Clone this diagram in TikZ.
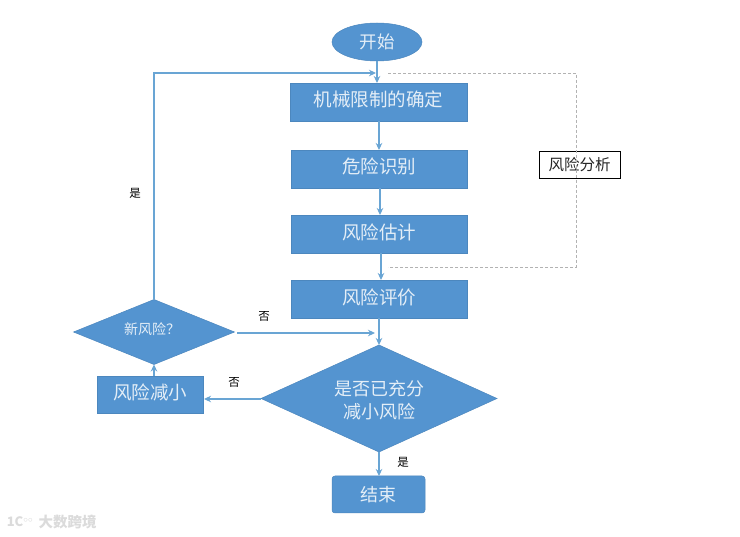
\documentclass[tikz,border=0pt]{standalone}
\usepackage{fontspec}
\usetikzlibrary{shapes.geometric,arrows.meta}
\setmainfont{Noto Sans CJK SC}
\definecolor{fillb}{RGB}{84,148,208}
\definecolor{edgeb}{RGB}{76,135,190}
\definecolor{lineb}{RGB}{105,165,212}
\definecolor{textw}{RGB}{228,238,247}
\newcommand{\upby}[2]{\raisebox{#1}{#2}}
\tikzset{
  x=1pt,y=-1pt,
  base/.style={fill=fillb,draw=edgeb,line width=0.5pt,text=textw,inner sep=0,outer sep=0},
  boxn/.style={base,rectangle,minimum width=176pt,minimum height=38pt,font=\fontsize{18.5}{20}\selectfont},
  conn/.style={draw=lineb,line width=1.2pt,-{Stealth[length=7pt,width=6.5pt]}},
  dashl/.style={draw=gray!60,line width=0.8pt,dash pattern=on 3pt off 2pt},
  lab/.style={font=\fontsize{11.5}{13}\selectfont,text=black,inner sep=0},
}
\begin{document}
\begin{tikzpicture}
\useasboundingbox (0,0) rectangle (740,537);
\fill[white] (0,0) rectangle (740,537);
\node[base,ellipse,minimum width=90pt,minimum height=38pt,font=\fontsize{17.5}{19}\selectfont] (start) at (377,42) {开始};
\node[boxn,minimum width=177pt] (b1) at (378.5,102) {\upby{7pt}{机械限制的确定}};
\node[boxn] (b2) at (379,169) {\upby{7pt}{危险识别}};
\node[boxn] (b3) at (379,234) {\upby{4pt}{风险估计}};
\node[boxn] (b4) at (379,299) {\upby{4pt}{风险评价}};
\node[base,diamond,aspect=2.2,minimum width=236pt,minimum height=107pt] (d1) at (379,398.5) {};
\node[text=textw,font=\fontsize{18}{22.5}\selectfont,align=center,inner sep=0] (d1t) at (379,400) {是否已充分\\减小风险};
\node[base,diamond,aspect=2.5,minimum width=161pt,minimum height=65pt] (d2) at (154,332) {};
\node[text=textw,font=\fontsize{14}{16}\selectfont,inner sep=0] (d2t) at (152,329) {新风险？};
\node[base,rectangle,minimum width=106pt,minimum height=37pt,font=\fontsize{18.5}{20}\selectfont] (red) at (150,394.5) {\upby{6pt}{风险减小}};
\node[base,rectangle,rounded corners=3pt,minimum width=93pt,minimum height=37pt,font=\fontsize{18}{20}\selectfont] (end) at (378.5,494.5) {结束};
\node[draw=black,line width=0.7pt,fill=white,minimum width=81pt,minimum height=27pt,inner sep=0,font=\fontsize{15.5}{17}\selectfont,text=black!85] (ra) at (579.5,164.5) {风险分析};
\node[lab] (yes1) at (135,193) {是};
\node[lab] (no1) at (264,316) {否};
\node[lab] (no2) at (234,382) {否};
\node[lab] (yes2) at (403,462) {是};
\node[inner sep=0,font=\bfseries\fontsize{14.5}{16}\selectfont,text=gray!28] (wm) at (67.5,522) {大数跨境};
\node[inner sep=0,font=\bfseries\fontsize{13}{15}\selectfont,text=gray!28] (wl) at (20,522) {1C$^{\circ\circ}$};
\coordinate (ml) at (376,73);
\coordinate (mr) at (375,333);
\coordinate (dl) at (237,333);
\coordinate (rt) at (204,399);
\coordinate (lt) at (261,399);
\coordinate (dA) at (388,73);
\coordinate (dB) at (576,73);
\coordinate (dC) at (576,267);
\coordinate (dD) at (388,267);
\draw[conn] (start.south) -- (start.south |- b1.north);
\draw[conn] (b1.south -| 379,0) -- (b2.north -| 379,0);
\draw[conn] (b2.south -| 380,0) -- (b3.north -| 380,0);
\draw[conn] (b3.south -| 381,0) -- (b4.north -| 381,0);
\draw[conn] (b4.south -| 379,0) -- (d1.north);
\draw[conn] (d1.south) -- (d1.south |- end.north);
\draw[conn] (lt) -- (rt);
\draw[conn] (red.north -| d2.south) -- (d2.south);
\draw[conn] (d2.north) -- (d2.north |- ml) -- (ml);
\draw[conn] (dl) -- (mr);
\draw[dashl] (dA) -- (dB) -- (dC) -- (dD);
\end{tikzpicture}
\end{document}
